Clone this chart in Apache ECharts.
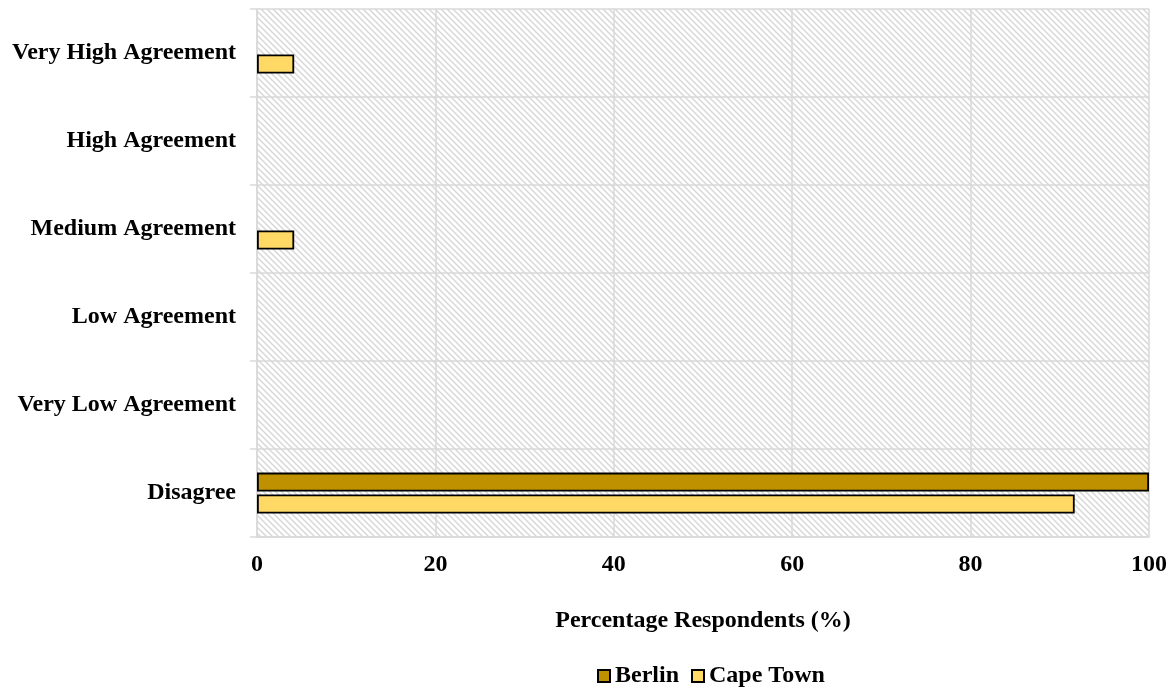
<!DOCTYPE html>
<html>
<head>
<meta charset="utf-8">
<script src="https://cdn.jsdelivr.net/npm/echarts@6/dist/echarts.min.js"></script>
<style>
  html, body { margin: 0; padding: 0; background: #fff; }
  #chart { width: 1172px; height: 689px; }
</style>
</head>
<body>
<div id="chart"></div>
<script>
// Agreement levels (bottom to top on the category axis)
const categories = ['Disagree', 'Very Low Agreement', 'Low Agreement', 'Medium Agreement', 'High Agreement', 'Very High Agreement'];
const berlin = [100, 0, 0, 0, 0, 0];
const capeTown = [91.67, 0, 0, 4.17, 0, 4.17];
const xTicks = [0, 20, 40, 60, 80, 100];

// Zero shares draw no bar (and no outline)
const asBars = arr => arr.map(v => (v === 0 ? '-' : v));

// Diagonal hatch tile for the plot background
function hatchTile() {
  const s = 6;
  const c = document.createElement('canvas');
  c.width = s; c.height = s;
  const g = c.getContext('2d');
  g.fillStyle = '#ffffff';
  g.fillRect(0, 0, s, s);
  g.strokeStyle = '#d6d6d6';
  g.lineWidth = 1.4;
  g.beginPath();
  g.moveTo(-1, -1); g.lineTo(s + 1, s + 1);
  g.moveTo(-1, s - 1); g.lineTo(1, s + 1);
  g.moveTo(s - 1, -1); g.lineTo(s + 1, 1);
  g.stroke();
  return c;
}

const font = 'Liberation Serif';
const fs = 24;
const chart = echarts.init(document.getElementById('chart'));
chart.setOption({
  animation: false,
  textStyle: { fontFamily: font },
  grid: {
    left: 257, right: 23, top: 9, bottom: 152,
    show: true,
    borderWidth: 0,
    backgroundColor: { image: hatchTile(), repeat: 'repeat' }
  },
  legend: {
    data: ['Berlin', 'Cape Town'],
    top: 659,
    left: 592,
    icon: 'rect',
    itemWidth: 12,
    itemHeight: 12,
    itemGap: 12,
    textStyle: { fontFamily: font, fontWeight: 'bold', fontSize: fs, color: '#000' }
  },
  xAxis: {
    type: 'value',
    min: 0, max: 100, interval: 20,
    name: 'Percentage Respondents (%)',
    nameLocation: 'middle',
    nameGap: 72,
    nameTextStyle: { fontFamily: font, fontWeight: 'bold', fontSize: fs, color: '#000' },
    axisLine: { show: true, lineStyle: { color: '#d9d9d9', width: 1.5 } },
    axisTick: { show: false },
    axisLabel: {
      margin: 16, fontFamily: font, fontWeight: 'bold', fontSize: fs, color: '#000',
      formatter: v => xTicks.includes(v) ? String(v) : ''
    },
    splitLine: { show: true, lineStyle: { color: '#d9d9d9', width: 1.5 } }
  },
  yAxis: {
    type: 'category',
    data: categories,
    axisLine: { show: true, lineStyle: { color: '#d9d9d9', width: 1.5 } },
    axisTick: { show: true, length: 7, lineStyle: { color: '#d9d9d9', width: 1.5 } },
    axisLabel: { margin: 21, fontFamily: font, fontWeight: 'bold', fontSize: fs, color: '#000' },
    splitLine: { show: true, lineStyle: { color: '#d9d9d9', width: 1.5 } }
  },
  series: [
    {
      name: 'Berlin', type: 'bar', data: asBars(berlin),
      barWidth: 19, barGap: '15%',
      itemStyle: { color: '#BF9000', borderColor: '#000', borderWidth: 1.8 }
    },
    {
      name: 'Cape Town', type: 'bar', data: asBars(capeTown),
      barWidth: 19, barGap: '15%',
      itemStyle: { color: '#FFD966', borderColor: '#000', borderWidth: 1.8 }
    }
  ]
});
</script>
</body>
</html>
